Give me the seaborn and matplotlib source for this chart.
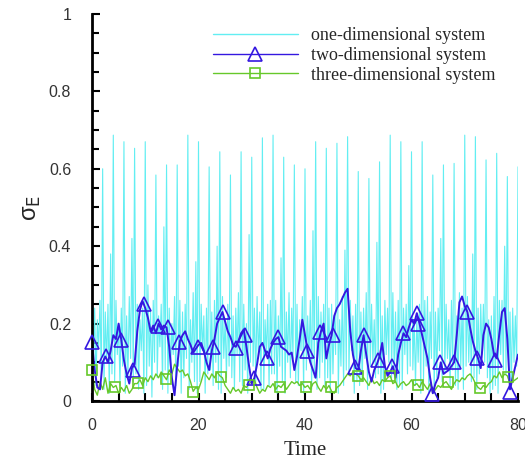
import numpy as np
import pandas as pd
import matplotlib
matplotlib.use("Agg")
import matplotlib.pyplot as plt
from matplotlib.lines import Line2D
from matplotlib.ticker import MultipleLocator
import seaborn as sns

# ---------------- data ----------------
labels = ["one-dimensional system", "two-dimensional system", "three-dimensional system"]

# one-dimensional system, sampled every 0.25 time units (rows = 2 time units)
cyan_vals = [
    0.27, 0.08, 0.24, 0.04, 0.21, 0.14, 0.26, 0.06,
    0.60, 0.03, 0.23, 0.10, 0.25, 0.02, 0.38, 0.07,
    0.687, 0.05, 0.26, 0.12, 0.20, 0.04, 0.24, 0.09,
    0.67, 0.02, 0.22, 0.06, 0.27, 0.11, 0.42, 0.05,
    0.653, 0.07, 0.25, 0.03, 0.21, 0.13, 0.24, 0.02,
    0.67, 0.04, 0.30, 0.09, 0.23, 0.01, 0.26, 0.10,
    0.584, 0.06, 0.22, 0.14, 0.25, 0.03, 0.45, 0.08,
    0.61, 0.02, 0.24, 0.07, 0.20, 0.12, 0.27, 0.04,
    0.61, 0.09, 0.26, 0.02, 0.23, 0.06, 0.25, 0.11,
    0.687, 0.03, 0.21, 0.10, 0.28, 0.05, 0.36, 0.02,
    0.67, 0.05, 0.25, 0.13, 0.22, 0.02, 0.24, 0.07,
    0.605, 0.08, 0.23, 0.04, 0.26, 0.10, 0.40, 0.03,
    0.644, 0.02, 0.27, 0.11, 0.21, 0.06, 0.25, 0.09,
    0.584, 0.06, 0.22, 0.03, 0.24, 0.12, 0.28, 0.05,
    0.644, 0.04, 0.25, 0.08, 0.20, 0.02, 0.43, 0.10,
    0.63, 0.09, 0.24, 0.05, 0.27, 0.11, 0.23, 0.03,
    0.68, 0.03, 0.21, 0.12, 0.25, 0.04, 0.26, 0.07,
    0.687, 0.07, 0.26, 0.02, 0.22, 0.09, 0.37, 0.05,
    0.63, 0.02, 0.23, 0.10, 0.28, 0.06, 0.24, 0.11,
    0.61, 0.05, 0.25, 0.04, 0.21, 0.13, 0.27, 0.02,
    0.60, 0.08, 0.22, 0.11, 0.26, 0.03, 0.44, 0.06,
    0.67, 0.03, 0.27, 0.06, 0.23, 0.10, 0.25, 0.04,
    0.653, 0.06, 0.24, 0.02, 0.25, 0.07, 0.22, 0.12,
    0.666, 0.02, 0.21, 0.09, 0.27, 0.04, 0.39, 0.08,
    0.683, 0.07, 0.26, 0.13, 0.22, 0.02, 0.25, 0.05,
    0.593, 0.04, 0.23, 0.05, 0.24, 0.11, 0.28, 0.03,
    0.575, 0.09, 0.25, 0.10, 0.21, 0.06, 0.41, 0.07,
    0.618, 0.02, 0.22, 0.03, 0.26, 0.12, 0.24, 0.10,
    0.687, 0.06, 0.28, 0.08, 0.23, 0.03, 0.26, 0.04,
    0.67, 0.03, 0.24, 0.12, 0.25, 0.07, 0.35, 0.09,
    0.644, 0.08, 0.21, 0.04, 0.22, 0.10, 0.25, 0.02,
    0.67, 0.05, 0.26, 0.09, 0.27, 0.02, 0.23, 0.11,
    0.584, 0.02, 0.23, 0.06, 0.24, 0.13, 0.42, 0.05,
    0.61, 0.07, 0.25, 0.11, 0.21, 0.04, 0.26, 0.08,
    0.614, 0.04, 0.22, 0.03, 0.28, 0.09, 0.24, 0.03,
    0.687, 0.09, 0.27, 0.10, 0.23, 0.05, 0.38, 0.06,
    0.683, 0.03, 0.24, 0.07, 0.25, 0.12, 0.25, 0.10,
    0.623, 0.06, 0.21, 0.02, 0.22, 0.03, 0.27, 0.04,
    0.64, 0.02, 0.26, 0.12, 0.26, 0.08, 0.40, 0.07,
    0.58, 0.05, 0.23, 0.04, 0.24, 0.10, 0.22, 0.09,
    0.605,
]
cyan_time = [i * 0.25 for i in range(len(cyan_vals))]

# two-dimensional system, sampled every 0.5 time units
blue_vals = [
    0.153, 0.08, 0.035, 0.03, 0.10, 0.115, 0.10, 0.13, 0.17, 0.16,
    0.20, 0.158, 0.105, 0.07, 0.045, 0.085, 0.095, 0.18, 0.235, 0.258,
    0.24, 0.215, 0.18, 0.195, 0.175, 0.20, 0.185, 0.195, 0.19, 0.14,
    0.06, 0.015, 0.09, 0.155, 0.17, 0.18, 0.16, 0.145, 0.125, 0.135,
    0.145, 0.15, 0.13, 0.10, 0.08, 0.13, 0.16, 0.20, 0.215, 0.23,
    0.205, 0.18, 0.165, 0.145, 0.14, 0.155, 0.175, 0.185, 0.14, 0.09,
    0.045, 0.06, 0.095, 0.14, 0.15, 0.13, 0.11, 0.135, 0.15, 0.16,
    0.165, 0.14, 0.135, 0.13, 0.12, 0.125, 0.08, 0.115, 0.16, 0.21,
    0.17, 0.13, 0.10, 0.08, 0.06, 0.15, 0.18, 0.20, 0.11, 0.145,
    0.17, 0.22, 0.24, 0.25, 0.265, 0.28, 0.29, 0.18, 0.12, 0.085,
    0.08, 0.13, 0.17, 0.12, 0.075, 0.05, 0.08, 0.095, 0.115, 0.15,
    0.09, 0.065, 0.075, 0.09, 0.06, 0.12, 0.15, 0.175, 0.165, 0.19,
    0.21, 0.20, 0.227, 0.20, 0.17, 0.14, 0.11, 0.06, 0.02, 0.045,
    0.06, 0.10, 0.07, 0.075, 0.08, 0.09, 0.10, 0.17, 0.255, 0.27,
    0.245, 0.23, 0.19, 0.155, 0.13, 0.11, 0.085, 0.17, 0.20, 0.19,
    0.16, 0.12, 0.11, 0.175, 0.23, 0.24, 0.16, 0.03, 0.06, 0.09,
    0.12,
]
blue_time = [i * 0.5 for i in range(len(blue_vals))]
blue_mark_time = [0.0, 2.7, 5.5, 7.7, 9.8, 12.4, 14.3, 16.4, 19.9, 22.8, 24.6,
                  27.1, 28.8, 30.5, 32.8, 34.9, 40.3, 42.8, 45.2, 49.3, 51.0,
                  53.8, 56.3, 58.4, 61.0, 61.3, 63.9, 65.4, 67.9, 70.4, 72.3,
                  75.7, 78.5]
blue_mark_vals = [0.153, 0.115, 0.157, 0.08, 0.25, 0.195, 0.192, 0.153, 0.14, 0.14, 0.23,
                  0.136, 0.17, 0.06, 0.11, 0.166, 0.13, 0.179, 0.17, 0.089, 0.17,
                  0.106, 0.09, 0.175, 0.227, 0.20, 0.018, 0.10, 0.10, 0.23, 0.11,
                  0.106, 0.024]

# three-dimensional system, sampled every 0.5 time units
green_vals = [
    0.08, 0.03, 0.015, 0.05, 0.03, 0.06, 0.02, 0.045, 0.035, 0.04,
    0.02, 0.035, 0.025, 0.04, 0.02, 0.03, 0.045, 0.045, 0.055, 0.04,
    0.06, 0.05, 0.065, 0.055, 0.07, 0.06, 0.075, 0.065, 0.055, 0.08,
    0.07, 0.095, 0.085, 0.075, 0.08, 0.065, 0.07, 0.05, 0.025, 0.035,
    0.03, 0.05, 0.075, 0.065, 0.055, 0.07, 0.06, 0.075, 0.065, 0.06,
    0.04, 0.03, 0.02, 0.035, 0.025, 0.03, 0.02, 0.04, 0.035, 0.045,
    0.05, 0.055, 0.035, 0.02, 0.03, 0.025, 0.04, 0.035, 0.045, 0.03,
    0.04, 0.035, 0.045, 0.03, 0.04, 0.05, 0.045, 0.05, 0.04, 0.045,
    0.035, 0.04, 0.03, 0.045, 0.05, 0.035, 0.025, 0.04, 0.03, 0.04,
    0.025, 0.02, 0.035, 0.04, 0.05, 0.06, 0.07, 0.065, 0.075, 0.07,
    0.065, 0.055, 0.06, 0.05, 0.04, 0.06, 0.045, 0.05, 0.04, 0.055,
    0.05, 0.06, 0.065, 0.045, 0.05, 0.035, 0.045, 0.05, 0.04, 0.045,
    0.055, 0.04, 0.045, 0.035, 0.05, 0.04, 0.03, 0.045, 0.02, 0.03,
    0.04, 0.035, 0.045, 0.05, 0.04, 0.03, 0.045, 0.055, 0.05, 0.06,
    0.055, 0.065, 0.07, 0.06, 0.045, 0.035, 0.03, 0.04, 0.035, 0.045,
    0.05, 0.065, 0.06, 0.075, 0.06, 0.07, 0.065, 0.045, 0.05, 0.055,
    0.06,
]
green_time = [i * 0.5 for i in range(len(green_vals))]
green_mark_time = [0.0, 4.3, 8.7, 13.9, 19.0, 24.3, 29.5, 35.3, 40.2, 44.8,
                   50.0, 55.9, 61.2, 66.8, 72.8, 78.1]
green_mark_vals = [0.08, 0.037, 0.046, 0.056, 0.024, 0.063, 0.041, 0.037, 0.037, 0.037,
                   0.065, 0.065, 0.041, 0.05, 0.033, 0.063]

x_ticks = [0, 20, 40, 60, 80]
y_ticks = [0, 0.2, 0.4, 0.6, 0.8, 1]
y_tick_labels = ["0", "0.2", "0.4", "0.6", "0.8", "1"]

# ---------------- style ----------------
sns.set_style("ticks")
plt.rcParams["font.family"] = ["Liberation Sans", "DejaVu Sans"]

c_cyan = "#62EEF2"
c_blue = "#3418E0"
c_green = "#66C82A"

fig = plt.figure(figsize=(5.25, 4.65), dpi=100)
ax = fig.add_axes([92 / 525, 64 / 465, 426 / 525, 387 / 465])

sns.lineplot(x=cyan_time, y=cyan_vals, ax=ax, color=c_cyan, lw=0.8,
             estimator=None, sort=False)
sns.lineplot(x=green_time, y=green_vals, ax=ax, color=c_green, lw=1.0,
             estimator=None, sort=False)
sns.lineplot(x=blue_time, y=blue_vals, ax=ax, color=c_blue, lw=1.4,
             estimator=None, sort=False)
ax.plot(blue_mark_time, blue_mark_vals, ls="none", marker="^", ms=9.5,
        mfc="none", mec=c_blue, mew=1.2, clip_on=False, zorder=5)
ax.plot(green_mark_time, green_mark_vals, ls="none", marker="s", ms=7,
        mfc="none", mec=c_green, mew=1.2, clip_on=False, zorder=5)

ax.set_xlim(0, 80)
ax.set_ylim(0, 1)
ax.set_xticks(x_ticks)
ax.set_yticks(y_ticks)
ax.set_yticklabels(y_tick_labels)
ax.xaxis.set_minor_locator(MultipleLocator(5))
ax.yaxis.set_minor_locator(MultipleLocator(0.05))
ax.tick_params(axis="both", which="both", direction="in", colors="black",
               labelcolor="#333333", labelsize=11.5, width=1.5)
ax.tick_params(axis="y", which="major", length=6, pad=15)
ax.tick_params(axis="y", which="minor", length=5)
ax.tick_params(axis="x", which="major", length=6, pad=12)
ax.tick_params(axis="x", which="minor", length=6)

for side in ["top", "right"]:
    ax.spines[side].set_visible(False)
for side in ["left", "bottom"]:
    ax.spines[side].set_linewidth(2)
    ax.spines[side].set_color("black")

ax.set_xlabel("Time", family="Liberation Serif", fontsize=15, labelpad=6)
ax.set_ylabel("σ$_\\mathrm{E}$", fontsize=17, labelpad=4)

handles = [
    Line2D([], [], color=c_cyan, lw=1.0),
    Line2D([], [], color=c_blue, lw=1.0, marker="^", ms=9.5, mfc="none", mew=1.2),
    Line2D([], [], color=c_green, lw=1.0, marker="s", ms=7, mfc="none", mew=1.2),
]
ax.legend(handles, labels, loc="upper left", bbox_to_anchor=(0.284, 0.966),
          frameon=False, borderaxespad=0, borderpad=0, handlelength=4.7,
          handletextpad=0.75, labelspacing=0.15,
          prop={"family": "Liberation Serif", "size": 13})

fig.savefig("out.png", dpi=100)
